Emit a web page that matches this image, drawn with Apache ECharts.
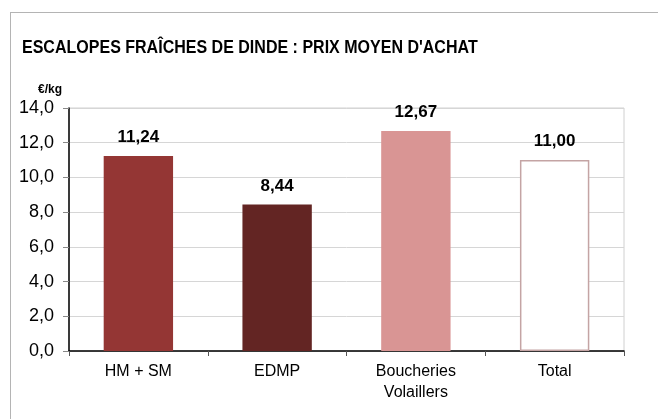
<!DOCTYPE html>
<html>
<head>
<meta charset="utf-8">
<script src="https://cdn.jsdelivr.net/npm/echarts@6/dist/echarts.min.js"></script>
<style>
  html, body { margin: 0; padding: 0; background: #fff; }
  #frame { position: absolute; left: 10px; top: 12px; width: 700px; height: 460px;
           border-left: 1px solid #b4b4b4; border-top: 1px solid #b4b4b4; }
  #chart { position: absolute; left: 0; top: 0; width: 658px; height: 419px; }
</style>
</head>
<body>
<div id="frame"></div>
<div id="chart"></div>
<script>
const titleText = "ESCALOPES FRAÎCHES DE DINDE : PRIX MOYEN D'ACHAT";
const unitLabel = "€/kg";
const categories = ["HM + SM", "EDMP", "Boucheries\nVolaillers", "Total"];
const prices = [11.24, 8.44, 12.67, 11.00];
const barColors = ["#943634", "#632523", "#D99594", "#FFFFFF"];
const barBorders = ["#943634", "#632523", "#D99594", "#C4A4A4"];
const yMin = 0, yMax = 14, yStep = 2;

const fmt = (v, d) => v.toFixed(d).replace('.', ',');
const font = "'Liberation Sans', Arial, sans-serif";

const chart = echarts.init(document.getElementById('chart'), null, { renderer: 'canvas' });
chart.setOption({
  animation: false,
  textStyle: { fontFamily: font },
  graphic: [{
    // slightly condensed bold title
    type: 'text', x: 22, y: 48, scaleX: 0.89,
    style: { text: titleText, font: "bold 18px " + font, fill: '#000',
             textAlign: 'left', textVerticalAlign: 'middle' }
  }, {
    type: 'text', left: 38, top: 84,
    style: { text: unitLabel, font: "bold 12px " + font, fill: '#000' }
  }],
  grid: { left: 69, right: 34, top: 108, bottom: 68, show: true, borderColor: '#d0d0d0', borderWidth: 1 },
  xAxis: {
    type: 'category', data: categories,
    axisLine: { lineStyle: { color: '#000', width: 1.5 } },
    axisTick: { show: true, length: 5, lineStyle: { color: '#555' } },
    axisLabel: { fontSize: 16, color: '#000', lineHeight: 21, margin: 10, fontFamily: font }
  },
  yAxis: {
    type: 'value', min: yMin, max: yMax, interval: yStep,
    axisLine: { show: true, lineStyle: { color: '#000', width: 1.5 } },
    axisTick: { show: true, length: 6, lineStyle: { color: '#888' } },
    splitLine: { lineStyle: { color: '#d6d6d6' } },
    axisLabel: { fontSize: 18, color: '#000', margin: 15, fontFamily: font,
                 formatter: v => fmt(v, 1) }
  },
  series: [{
    type: 'bar', barCategoryGap: '50%',
    data: prices.map((v, i) => ({
      value: v,
      itemStyle: { color: barColors[i], borderColor: barBorders[i], borderWidth: i === 3 ? 1.5 : 0 }
    })),
    label: {
      show: true, position: 'top', distance: 10,
      fontSize: 17, fontWeight: 'bold', color: '#000', fontFamily: font,
      formatter: p => fmt(p.value, 2)
    }
  }]
});
</script>
</body>
</html>
